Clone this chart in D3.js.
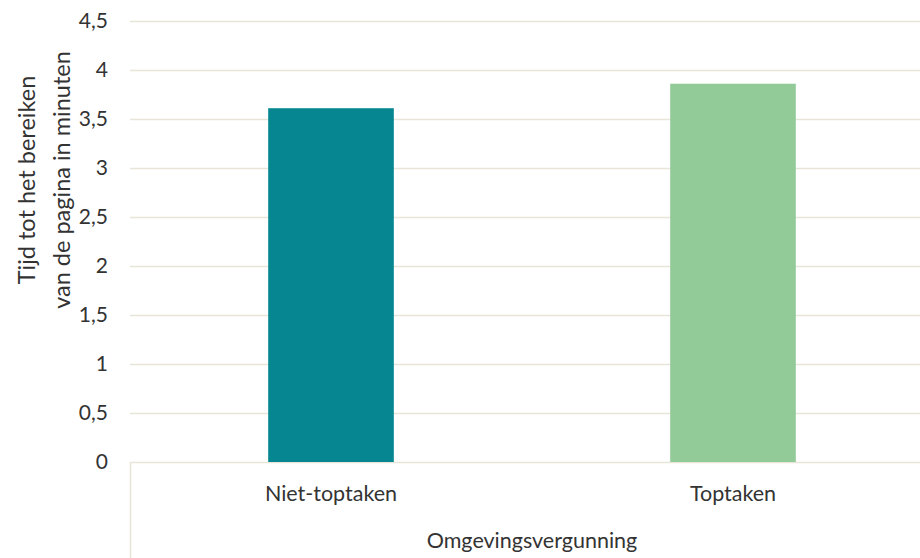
<!DOCTYPE html>
<html>
<head>
<meta charset="utf-8">
<script src="https://cdn.jsdelivr.net/npm/d3@7"></script>
<style>
  body { margin: 0; background: #fff; }
  text { font-family: Lato, "Open Sans", sans-serif; fill: #333; }
</style>
</head>
<body>
<svg id="chart" width="920" height="558"></svg>
<script>
// data
const categories = ['Niet-toptaken', 'Toptaken'];
const values = [3.61, 3.86];
const colors = ['#058690', '#93cb98'];
const groupLabel = 'Omgevingsvergunning';
const yTicks = [0, 0.5, 1, 1.5, 2, 2.5, 3, 3.5, 4, 4.5];
const yTitle = ['Tijd tot het bereiken', 'van de pagina in minuten'];

const svg = d3.select('#chart');
const plotLeft = 130, plotRight = 934, plotTop = 21, plotBottom = 462;

const x = d3.scaleBand().domain(categories).range([plotLeft, plotRight]).paddingInner(0).paddingOuter(0);
const y = d3.scaleLinear().domain([0, 4.5]).range([plotBottom, plotTop]);

// gridlines
svg.append('g')
  .selectAll('line')
  .data(yTicks)
  .enter().append('line')
  .attr('x1', plotLeft).attr('x2', 920)
  .attr('y1', d => Math.round(y(d)) + 0.5)
  .attr('y2', d => Math.round(y(d)) + 0.5)
  .attr('stroke', '#e8e5d8')
  .attr('stroke-width', 1.5);

// tick labels
const fmt = d => String(d).replace('.', ',');
svg.append('g')
  .selectAll('text')
  .data(yTicks)
  .enter().append('text')
  .attr('x', 108)
  .attr('y', d => y(d))
  .attr('dy', '0.35em')
  .attr('text-anchor', 'end')
  .style('font-size', '21px')
  .text(fmt);

// bars: bar width = band / (1 + 2.2) (Excel gap width 220%)
const bw = x.bandwidth() / 3.2;
svg.append('g')
  .selectAll('rect')
  .data(values)
  .enter().append('rect')
  .attr('x', (d, i) => x(categories[i]) + x.bandwidth() / 2 - bw / 2)
  .attr('width', bw)
  .attr('y', d => y(d))
  .attr('height', d => y(0) - y(d))
  .attr('fill', (d, i) => colors[i]);

// category axis frame
svg.append('line')
  .attr('x1', plotLeft + 0.5).attr('x2', plotLeft + 0.5)
  .attr('y1', plotBottom).attr('y2', 558)
  .attr('stroke', '#e8e5d8').attr('stroke-width', 1.5);

// category labels
svg.append('g')
  .selectAll('text')
  .data(categories)
  .enter().append('text')
  .attr('x', d => x(d) + x.bandwidth() / 2)
  .attr('y', 501)
  .attr('text-anchor', 'middle')
  .style('font-size', '21.5px')
  .text(d => d);

svg.append('text')
  .attr('x', (plotLeft + plotRight) / 2)
  .attr('y', 548)
  .attr('text-anchor', 'middle')
  .style('font-size', '21.5px')
  .text(groupLabel);

// y title
const title = svg.append('text')
  .attr('transform', 'translate(0,180) rotate(-90)')
  .attr('text-anchor', 'middle')
  .style('font-size', '23.5px');
title.selectAll('tspan')
  .data(yTitle)
  .enter().append('tspan')
  .attr('x', 0)
  .attr('y', (d, i) => 35 + i * 35)
  .text(d => d);
</script>
</body>
</html>
